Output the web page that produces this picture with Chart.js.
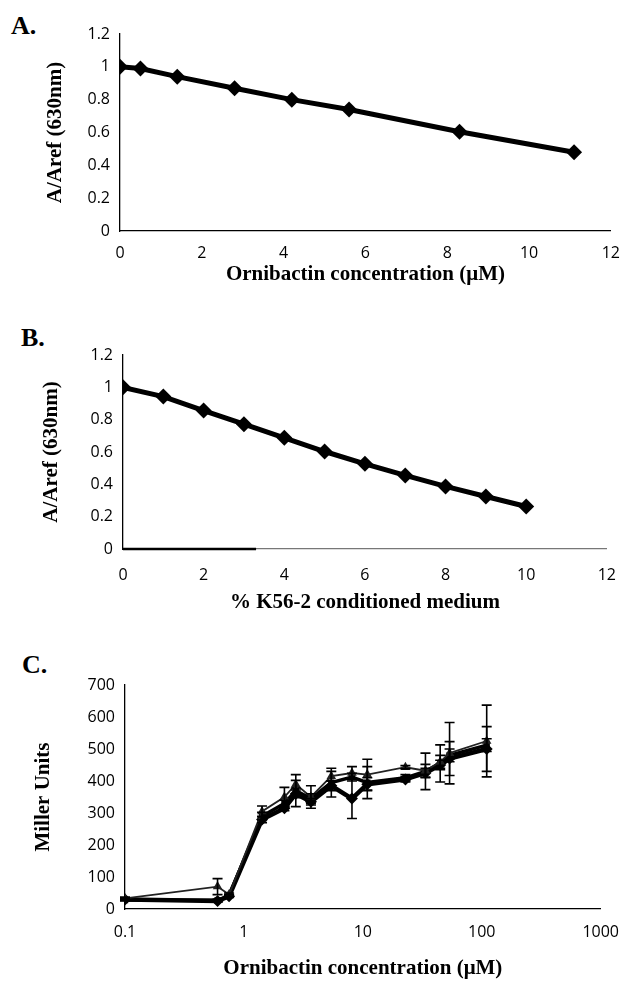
<!DOCTYPE html>
<html>
<head>
<meta charset="utf-8">
<script src="https://cdn.jsdelivr.net/npm/chart.js@4.4.1/dist/chart.umd.min.js"></script>
<style>
  html, body { margin: 0; padding: 0; background: #fff; }
  body { width: 633px; height: 981px; position: relative; overflow: hidden; }
  .panel { position: absolute; left: 0; width: 633px; }
  .tag { position: absolute; font: bold 26px "Liberation Serif", serif; line-height: 26px; color: #000; }
</style>
</head>
<body>
<div class="tag" style="left:11px;top:13px">A.</div>
<div class="tag" style="left:21px;top:325px">B.</div>
<div class="tag" style="left:22px;top:652px">C.</div>
<div class="panel" style="top:0;height:291px"><canvas id="chartA"></canvas></div>
<div class="panel" style="top:300px;height:320px"><canvas id="chartB"></canvas></div>
<div class="panel" style="top:620px;height:361px"><canvas id="chartC"></canvas></div>
<script>
// A: ornibactin concentration vs A/Aref
const aConc = [0, 0.5, 1.4, 2.8, 4.2, 5.6, 8.3, 11.1];
const aRatio = [1.0, 0.99, 0.94, 0.87, 0.80, 0.74, 0.605, 0.48];

// B: % K56-2 conditioned medium vs A/Aref
const bPct = [0, 1, 2, 3, 4, 5, 6, 7, 8, 9, 10];
const bRatio = [1.0, 0.943, 0.856, 0.772, 0.688, 0.603, 0.527, 0.455, 0.387, 0.325, 0.263];
const bAxisDarkEnd = 3.3; // darker stretch of the x axis line in the original

// C: Miller units vs ornibactin concentration (log)
const cConc = [0.1, 0.6, 0.75, 1.42, 2.19, 2.73, 3.66, 5.43, 8.1, 10.9, 22.8, 33.6, 44.7, 53.6, 110];
const cDiamond = [30, 25, 40, 280, 315, 360, 335, 385, 345, 390, 405, 425, 450, 470, 500];
const cDiamondErr = [3, 4, 4, 10, 8, 12, 10, 15, 62, 20, 8, 15, 15, 53, 70];
const cSquare = [28, 27, 42, 290, 330, 370, 345, 395, 412, 395, 410, 430, 455, 480, 512];
const cSquareErr = [3, 4, 4, 12, 10, 50, 15, 45, 12, 50, 10, 57, 58, 20, 20];
const cTriangle = [33, 70, 45, 305, 350, 390, 350, 415, 425, 420, 443, 432, 460, 487, 525];
const cTriangleErr = [4, 25, 5, 17, 30, 12, 35, 15, 20, 48, 5, 20, 20, 96, 112];
const cTicks = [0.1, 1, 10, 100, 1000];

const tickFont = { family: "Open Sans", size: 16 };
const titleFont = { family: "Liberation Serif", size: 21, weight: "bold" };
const fmt = v => String(+Number(v).toFixed(2));

const pts = (xs, ys) => xs.map((x, i) => ({ x, y: ys[i] }));

function axes(o) {
  return {
    x: {
      type: o.xType || "linear",
      min: o.xMin, max: o.xMax,
      grid: { display: false, drawTicks: false },
      border: { display: true, color: o.xBorder || "#000", width: 1.3 },
      ticks: { font: tickFont, color: "#000", padding: o.xPad, stepSize: o.xStep, maxRotation: 0,
               autoSkip: false, callback: fmt },
      afterBuildTicks: o.xTicks ? s => { s.ticks = o.xTicks.map(v => ({ value: v })); } : undefined,
      title: { display: true, text: o.xTitle, font: titleFont, color: "#000", padding: o.xTitlePad || 4 },
      afterFit: s => { s.height = o.xH; }
    },
    y: {
      min: 0, max: o.yMax,
      grid: { display: false, drawTicks: false },
      border: { display: true, color: "#000", width: 1.3 },
      ticks: { font: tickFont, color: "#000", padding: 10, stepSize: o.yStep, callback: fmt },
      title: { display: true, text: o.yTitle, font: titleFont, color: "#000" },
      afterFit: s => { s.width = o.yW; }
    }
  };
}

function diamondChart(id, xs, ys, o, plugins) {
  return new Chart(document.getElementById(id), {
    type: "line",
    data: { datasets: [{
      data: pts(xs, ys), borderColor: "#000", backgroundColor: "#000", borderWidth: 5,
      pointStyle: "rectRot", pointRadius: 8, pointBackgroundColor: "#000", pointBorderWidth: 0
    }] },
    options: {
      responsive: true, maintainAspectRatio: false, animation: false,
      layout: { padding: o.pad },
      plugins: { legend: { display: false }, tooltip: { enabled: false } },
      scales: axes(o)
    },
    plugins: plugins || []
  });
}

diamondChart("chartA", aConc, aRatio, {
  pad: { top: 34, left: 39, right: 18, bottom: 0 },
  xMin: 0, xMax: 12, xStep: 2, xPad: 13, xH: 60, xTitle: "Ornibactin concentration (\u03bcM)",
  yMax: 1.2, yStep: 0.2, yW: 81, yTitle: "A/Aref (630nm)"
});

const darkAxis = {
  id: "darkAxis",
  afterDraw(chart) {
    const { ctx, scales: { x, y } } = chart;
    ctx.save();
    ctx.strokeStyle = "#000";
    ctx.lineWidth = 2.5;
    ctx.beginPath();
    ctx.moveTo(x.getPixelForValue(0), y.getPixelForValue(0));
    ctx.lineTo(x.getPixelForValue(bAxisDarkEnd), y.getPixelForValue(0));
    ctx.stroke();
    ctx.restore();
  }
};

diamondChart("chartB", bPct, bRatio, {
  pad: { top: 55, left: 35, right: 18, bottom: 1 },
  xMin: 0, xMax: 12, xStep: 2, xPad: 17, xH: 70, xBorder: "#777", xTitle: "% K56-2 conditioned medium",
  yMax: 1.2, yStep: 0.2, yW: 88, yTitle: "A/Aref (630nm)"
}, [darkAxis]);

// error bars drawn through the chart's own scales
const errorBars = {
  id: "errorBars",
  afterDatasetsDraw(chart) {
    const { ctx, scales: { x, y } } = chart;
    ctx.save();
    ctx.strokeStyle = "#000";
    ctx.lineWidth = 1.6;
    chart.data.datasets.forEach(ds => {
      if (!ds.errors) return;
      ds.data.forEach((p, i) => {
        const e = ds.errors[i];
        if (!e) return;
        const px = x.getPixelForValue(p.x);
        const top = y.getPixelForValue(p.y + e), bot = y.getPixelForValue(p.y - e);
        ctx.beginPath();
        ctx.moveTo(px, top); ctx.lineTo(px, bot);
        ctx.moveTo(px - 5, top); ctx.lineTo(px + 5, top);
        ctx.moveTo(px - 5, bot); ctx.lineTo(px + 5, bot);
        ctx.stroke();
      });
    });
    ctx.restore();
  }
};

const cSeries = (ys, errs, style, width, r, color) => ({
  data: pts(cConc, ys), errors: errs, borderColor: color, backgroundColor: color,
  borderWidth: width, pointStyle: style, pointRadius: r, pointBackgroundColor: color, pointBorderWidth: 0
});

new Chart(document.getElementById("chartC"), {
  type: "line",
  data: { datasets: [
    cSeries(cTriangle, cTriangleErr, "triangle", 1.8, 5.5, "#222"),
    cSeries(cSquare, cSquareErr, "rect", 3.5, 4.5, "#000"),
    cSeries(cDiamond, cDiamondErr, "rectRot", 4.5, 6, "#000")
  ] },
  options: {
    responsive: true, maintainAspectRatio: false, animation: false,
    layout: { padding: { top: 65, left: 27, right: 16, bottom: 0 } },
    plugins: { legend: { display: false }, tooltip: { enabled: false } },
    scales: axes({
      xType: "logarithmic", xMin: 0.1, xMax: 1000, xTicks: cTicks, xPad: 14, xH: 72,
      xTitlePad: { top: 4, bottom: 0 }, xTitle: "Ornibactin concentration (\u03bcM)",
      yMax: 700, yStep: 100, yW: 98, yTitle: "Miller Units"
    })
  },
  plugins: [errorBars]
});
</script>
</body>
</html>
